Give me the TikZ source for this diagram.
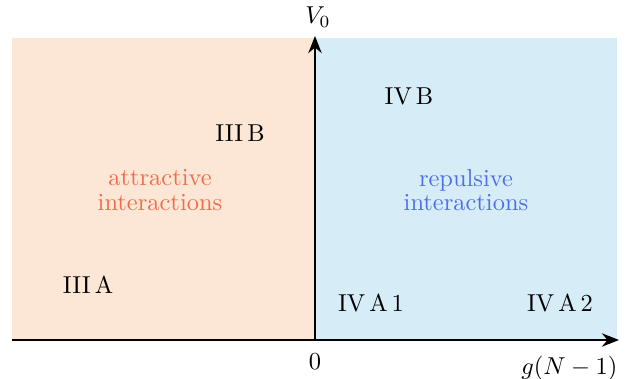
\documentclass[tikz,border=0pt]{standalone}
\usepackage{amsmath}
\usetikzlibrary{arrows.meta}
\definecolor{attrbg}{RGB}{252,231,214}
\definecolor{repbg}{RGB}{214,236,247}
\definecolor{attrtxt}{RGB}{242,108,72}
\definecolor{reptxt}{RGB}{78,112,230}
\begin{document}
\begin{tikzpicture}[x=0.01438cm,y=-0.01438cm,
    region/.style={},
    axis/.style={thick,-{Stealth[length=7pt,width=5.5pt]}}]
    \useasboundingbox (0,0) rectangle (626,379);
    %\draw [help lines] (0,0) grid (626,379);

    %regions
    \fill [attrbg] (12,38) rectangle (315,340);
    \fill [repbg] (315,38) rectangle (617,340);

    %axes
    \coordinate (O) at (315,340);
    \coordinate (xend) at (619,340);
    \coordinate (xstart) at (12,340);
    \coordinate (yend) at (315,36);
    \draw [axis] (xstart) to (xend);
    \draw [axis] (O) to (yend);
    \node (V0) at (318,17) {$V_0$};
    \node (zero) at (315,362) {$0$};
    \node [anchor=east] (gN) at (626,368) {$g(N-1)$};

    %attractive side
    \node [region] (IIIA) at (88,285) {III\,A};
    \node [region] (IIIB) at (240,133) {III\,B};
    \node [region,color=attrtxt,align=center] (attr) at (160,190) {attractive\\[-2pt]interactions};

    %repulsive side
    \node [region] (IVB) at (409,96) {IV\,B};
    \node [region] (IVA1) at (371,303) {IV\,A\,1};
    \node [region] (IVA2) at (560,303) {IV\,A\,2};
    \node [region,color=reptxt,align=center] (rep) at (466,190) {repulsive\\[-2pt]interactions};
\end{tikzpicture}
\end{document}
